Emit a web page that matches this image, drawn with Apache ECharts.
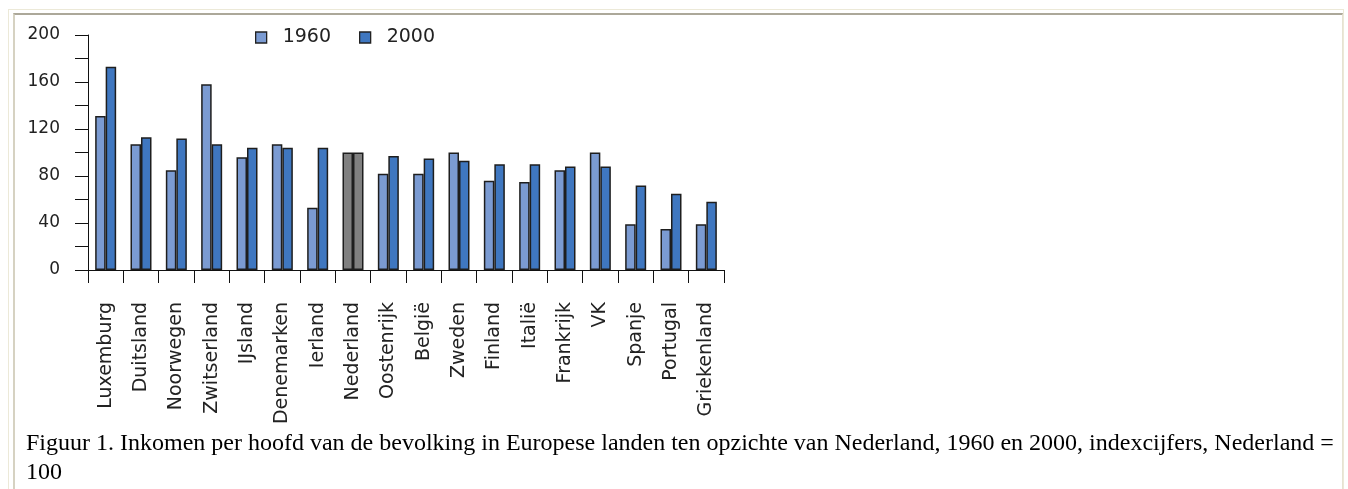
<!DOCTYPE html>
<html>
<head>
<meta charset="utf-8">
<script src="https://cdn.jsdelivr.net/npm/echarts@6/dist/echarts.min.js"></script>
<style>
  html, body { margin: 0; padding: 0; background: #ffffff; width: 1348px; height: 489px; overflow: hidden; }
  #frameOuter { position: absolute; left: 8px; top: 9px; width: 1336px; height: 500px;
    border-top: 1px solid #ece9d8; border-left: 1px solid #ece9d8; border-right: 1px solid #ece9d8; box-sizing: border-box; }
  #frameInner { position: absolute; left: 13px; top: 13px; width: 1330px; height: 500px;
    border-top: 2px solid #aca899; border-left: 2px solid #d6d2c2; border-right: 1px solid #e6e2d2; box-sizing: border-box; }
  #chart { position: absolute; left: 0; top: 0; width: 1348px; height: 489px; }
</style>
</head>
<body>
<div id="frameOuter"></div>
<div id="frameInner"></div>
<div id="chart"></div>
<script>
const categories = ['Luxemburg', 'Duitsland', 'Noorwegen', 'Zwitserland', 'IJsland', 'Denemarken', 'Ierland', 'Nederland', 'Oostenrijk', 'België', 'Zweden', 'Finland', 'Italië', 'Frankrijk', 'VK', 'Spanje', 'Portugal', 'Griekenland'];
const values1960 = [131, 107, 85, 158, 96, 107, 53, 100, 82, 82, 100, 76, 75, 85, 100, 39, 35, 39];
const values2000 = [173, 113, 112, 107, 104, 104, 104, 100, 97, 95, 93, 90, 90, 88, 88, 72, 65, 58];
const seriesNames = ['1960', '2000'];
const highlightCategory = 'Nederland';
const captionText = 'Figuur 1. Inkomen per hoofd van de bevolking in Europese landen ten opzichte van Nederland, 1960 en 2000, indexcijfers, Nederland =\n100';

const color1960 = '#7b9bd2';
const color2000 = '#3f77c0';
const colorHighlight = '#808080';
const fontFam = '"DejaVu Sans", Verdana, sans-serif';

function buildData(vals) {
  return vals.map((v, i) => categories[i] === highlightCategory
    ? { value: v, itemStyle: { color: colorHighlight } }
    : v);
}

const chart = echarts.init(document.getElementById('chart'), null, { renderer: 'canvas' });
chart.setOption({
  animation: false,
  backgroundColor: 'transparent',
  title: {
    text: captionText,
    left: 26,
    top: 429,
    padding: 0,
    textStyle: { fontFamily: '"Liberation Serif", "Times New Roman", serif', fontSize: 24, fontWeight: 'normal', color: '#000', lineHeight: 29 }
  },
  legend: {
    left: 255,
    top: 28,
    padding: 0,
    itemWidth: 11,
    itemHeight: 11,
    itemGap: 28,
    icon: 'rect',
    data: seriesNames,
    textStyle: { fontFamily: fontFam, fontSize: 19, color: '#222', padding: [0, 0, 0, 11] },
    itemStyle: { borderColor: '#222', borderWidth: 1.3 }
  },
  grid: { left: 88, top: 35, width: 636, height: 235, containLabel: false },
  xAxis: {
    type: 'category',
    data: categories,
    axisLine: { lineStyle: { color: '#111', width: 1 } },
    axisTick: { show: true, length: 13, alignWithLabel: false, lineStyle: { color: '#111' } },
    axisLabel: { rotate: 90, margin: 32, interval: 0, fontFamily: fontFam, fontSize: 19, color: '#222' },
    splitLine: { show: false }
  },
  yAxis: {
    type: 'value',
    min: 0, max: 200, interval: 20,
    axisLine: { show: true, lineStyle: { color: '#111', width: 1 } },
    axisTick: { show: true, length: 13, lineStyle: { color: '#111' } },
    axisLabel: { margin: 28, fontFamily: fontFam, fontSize: 17, color: '#222',
      formatter: v => (v % 40 === 0 ? String(v) : '') },
    splitLine: { show: false }
  },
  series: [
    { name: seriesNames[0], type: 'bar', data: buildData(values1960), barWidth: 10.5, barGap: '0%',
      itemStyle: { color: color1960, borderColor: '#1e1e1e', borderWidth: 1.5 } },
    { name: seriesNames[1], type: 'bar', data: buildData(values2000), barWidth: 10.5, barGap: '0%',
      itemStyle: { color: color2000, borderColor: '#1e1e1e', borderWidth: 1.5 } }
  ]
});
</script>
</body>
</html>
